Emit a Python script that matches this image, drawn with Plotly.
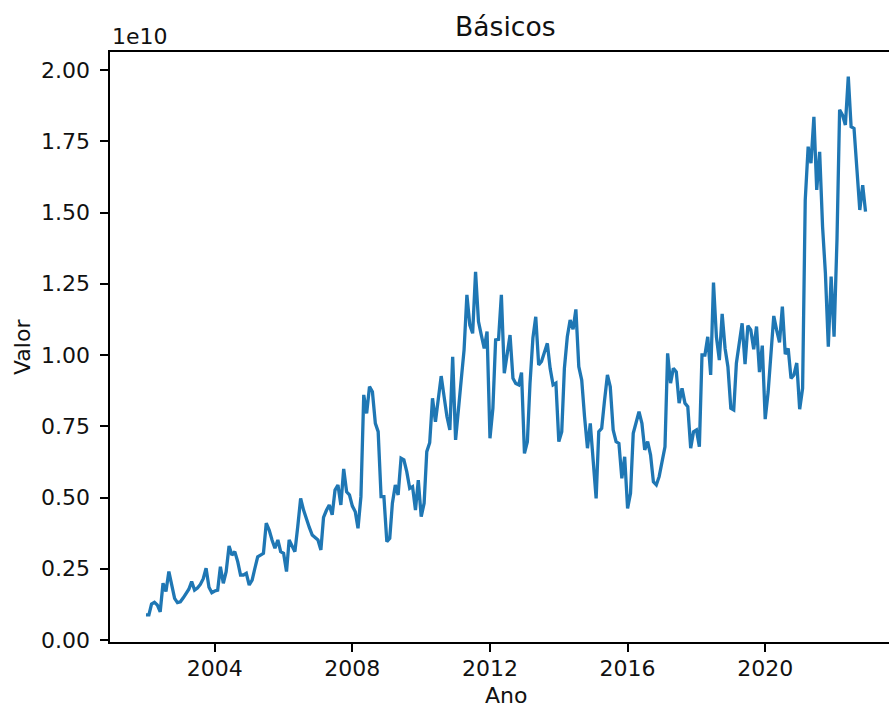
import pandas as pd
import plotly.graph_objects as go

# Monthly values, in units of 1e10 (one row per year, 2002 .. 2022)
ESCALA = 1e10
valores_1e10 = [
    0.088, 0.088, 0.126, 0.132, 0.123, 0.099, 0.199, 0.170, 0.240, 0.199, 0.146, 0.131,  # 2002
    0.134, 0.148, 0.160, 0.178, 0.205, 0.175, 0.182, 0.195, 0.215, 0.252, 0.185, 0.166,  # 2003
    0.172, 0.175, 0.257, 0.199, 0.240, 0.330, 0.298, 0.310, 0.275, 0.228, 0.228, 0.234,  # 2004
    0.193, 0.210, 0.250, 0.292, 0.298, 0.304, 0.410, 0.386, 0.350, 0.322, 0.351, 0.310,  # 2005
    0.304, 0.240, 0.351, 0.327, 0.310, 0.400, 0.497, 0.456, 0.421, 0.395, 0.368, 0.360,  # 2006
    0.351, 0.316, 0.430, 0.455, 0.474, 0.439, 0.526, 0.544, 0.474, 0.600, 0.520, 0.509,  # 2007
    0.470, 0.450, 0.392, 0.503, 0.860, 0.795, 0.889, 0.871, 0.760, 0.731, 0.503, 0.503,  # 2008
    0.345, 0.357, 0.480, 0.544, 0.509, 0.638, 0.632, 0.590, 0.532, 0.538, 0.456, 0.561,  # 2009
    0.433, 0.480, 0.661, 0.692, 0.848, 0.766, 0.850, 0.926, 0.854, 0.784, 0.737, 0.994,  # 2010
    0.702, 0.801, 0.910, 1.018, 1.211, 1.105, 1.076, 1.292, 1.117, 1.070, 1.023, 1.082,  # 2011
    0.708, 0.813, 1.053, 1.055, 1.211, 0.936, 0.994, 1.070, 0.918, 0.900, 0.895, 0.938,  # 2012
    0.655, 0.696, 0.900, 1.060, 1.134, 0.965, 0.977, 1.010, 1.041, 0.953, 0.895, 0.901,  # 2013
    0.696, 0.731, 0.953, 1.064, 1.123, 1.090, 1.160, 0.959, 0.912, 0.784, 0.673, 0.760,  # 2014
    0.608, 0.497, 0.731, 0.743, 0.840, 0.930, 0.889, 0.737, 0.696, 0.690, 0.567, 0.643,  # 2015
    0.462, 0.515, 0.725, 0.765, 0.801, 0.760, 0.667, 0.696, 0.649, 0.555, 0.544, 0.573,  # 2016
    0.620, 0.678, 1.006, 0.901, 0.953, 0.941, 0.831, 0.883, 0.831, 0.819, 0.673, 0.731,  # 2017
    0.737, 0.678, 1.000, 1.000, 1.064, 0.930, 1.254, 1.064, 0.982, 1.144, 1.023, 0.959,  # 2018
    0.813, 0.807, 0.971, 1.050, 1.111, 0.968, 1.103, 1.088, 1.020, 1.100, 0.940, 1.033,  # 2019
    0.775, 0.870, 1.000, 1.137, 1.088, 1.044, 1.170, 1.003, 1.023, 0.918, 0.930, 0.972,  # 2020
    0.810, 0.883, 1.544, 1.731, 1.673, 1.836, 1.579, 1.713, 1.450, 1.287, 1.029, 1.275,  # 2021
    1.064, 1.404, 1.860, 1.842, 1.807, 1.977, 1.801, 1.795, 1.650, 1.509, 1.596, 1.503,  # 2022
]
inicio = "2002-01-01"
anos_ticks = [2004, 2008, 2012, 2016, 2020]
y_ticks_1e10 = [0.00, 0.25, 0.50, 0.75, 1.00, 1.25, 1.50, 1.75, 2.00]

titulo = "Básicos"
rotulo_x = "Ano"
rotulo_y = "Valor"
rotulo_expoente = "1e10"

datas = pd.date_range(inicio, periods=len(valores_1e10), freq="MS")
valores = [v * ESCALA for v in valores_1e10]

# Figure geometry (pixels)
W, H = 889, 708
left, top, bottom_px = 110, 52, 642
full_right = 901.5          # right end of the x axis (beyond the visible page)
plot_w = W - left
plot_h = bottom_px - top

# x range with 5% padding; clip the axis at the visible page edge
span = datas[-1] - datas[0]
xmin = datas[0] - span * 0.05
xmax_full = datas[-1] + span * 0.05
xmax = xmin + (xmax_full - xmin) * ((W - left) / (full_right - left))

# y range: 0 at y=640 px, 2e10 at y=70 px
px_per_unit = (640 - 70) / 2.0
ymin = -(bottom_px - 640) / px_per_unit
ymax = (640 - top) / px_per_unit

FONT = "DejaVu Sans"
TXT = "#111111"
AX_W = 1.8
TICK_LEN = 7.8

fig = go.Figure()
fig.add_trace(go.Scatter(
    x=datas, y=valores, mode="lines",
    line=dict(color="#1f77b4", width=3.3),
    hoverinfo="skip", showlegend=False,
))

fig.update_layout(
    width=W, height=H,
    margin=dict(l=left, r=0, t=top, b=H - bottom_px, pad=0),
    paper_bgcolor="white", plot_bgcolor="white",
    font=dict(family=FONT, size=22, color=TXT),
    showlegend=False,
)

fig.update_xaxes(
    range=[xmin, xmax],
    tickvals=[pd.Timestamp(f"{a}-01-01") for a in anos_ticks],
    ticktext=[str(a) for a in anos_ticks],
    ticks="outside", ticklen=TICK_LEN, tickwidth=AX_W, tickcolor="black",
    showline=True, linecolor="black", linewidth=AX_W, mirror=True,
    showgrid=False, zeroline=False,
    tickfont=dict(family=FONT, size=22, color=TXT),
    ticklabelstandoff=-2,
)
fig.update_yaxes(
    range=[ymin * ESCALA, ymax * ESCALA],
    tickvals=[t * ESCALA for t in y_ticks_1e10],
    ticktext=[f"{t:.2f}" for t in y_ticks_1e10],
    ticks="outside", ticklen=TICK_LEN, tickwidth=AX_W, tickcolor="black",
    showline=True, linecolor="black", linewidth=AX_W, mirror=False,
    showgrid=False, zeroline=False,
    tickfont=dict(family=FONT, size=22, color=TXT),
    ticklabelstandoff=6,
)

def py(y_px):
    return (bottom_px - y_px) / plot_h

def px(x_px):
    return (x_px - left) / plot_w

centro_x = (left + full_right) / 2

fig.add_annotation(text=titulo, xref="paper", yref="paper",
                   x=px(centro_x), y=py(26.5), xanchor="center", yanchor="middle",
                   showarrow=False, font=dict(family=FONT, size=26.6, color=TXT))
fig.add_annotation(text=rotulo_x, xref="paper", yref="paper",
                   x=px(centro_x), y=py(695.5), xanchor="center", yanchor="middle",
                   showarrow=False, font=dict(family=FONT, size=22, color=TXT))
fig.add_annotation(text=rotulo_y, xref="paper", yref="paper",
                   x=px(22), y=py((top + bottom_px) / 2), xanchor="center", yanchor="middle",
                   textangle=-90, showarrow=False, font=dict(family=FONT, size=22, color=TXT))
fig.add_annotation(text=rotulo_expoente, xref="paper", yref="paper",
                   x=px(110), y=py(36.5), xanchor="left", yanchor="middle",
                   showarrow=False, font=dict(family=FONT, size=22, color=TXT))

fig.write_html("out.html")
